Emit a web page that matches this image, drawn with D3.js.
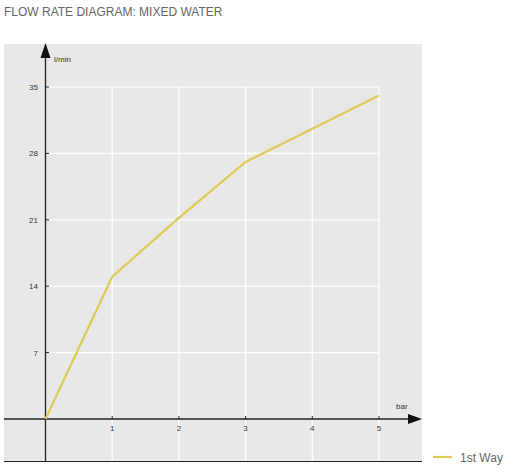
<!DOCTYPE html><html><head><meta charset="utf-8"><script src="https://cdn.jsdelivr.net/npm/d3@7"></script>
<style>body{margin:0;background:#fff;font-family:"Liberation Sans",Arial,sans-serif}</style></head><body><svg id="c" width="508" height="470"></svg>
<script>
const xVals=[0,1,2,3,4,5];
const yVals=[0,15,21.2,27.1,30.6,34.1];
const xTicks=[1,2,3,4,5];
const yTicks=[7,14,21,28,35];
const svg=d3.select("#c");
const x=d3.scaleLinear().domain([0,5]).range([45.5,379]);
const y=d3.scaleLinear().domain([0,35]).range([419,87]);
svg.append("text").attr("x",4).attr("y",16).attr("font-size",12).attr("fill","#666").attr("font-weight",300).text("FLOW RATE DIAGRAM: MIXED WATER");
svg.append("rect").attr("x",4).attr("y",44).attr("width",418).attr("height",418).attr("fill","#e8e8e8");
svg.selectAll(".gy").data(yTicks).join("line").attr("x1",48).attr("x2",379).attr("y1",d=>y(d)).attr("y2",d=>y(d)).attr("stroke","#fff").attr("stroke-width",1.2);
svg.selectAll(".gx").data(xTicks).join("line").attr("x1",d=>x(d)).attr("x2",d=>x(d)).attr("y1",87).attr("y2",462).attr("stroke","#fff").attr("stroke-width",1.2);
svg.append("line").attr("x1",4).attr("x2",422).attr("y1",461.5).attr("y2",461.5).attr("stroke","#222").attr("stroke-width",1.2);
svg.append("line").attr("x1",4).attr("x2",410).attr("y1",419).attr("y2",419).attr("stroke","#222").attr("stroke-width",1.3);
svg.append("path").attr("d","M408,414L422,419L408,424Z").attr("fill","#111");
svg.append("line").attr("x1",45.5).attr("x2",45.5).attr("y1",55).attr("y2",462).attr("stroke","#222").attr("stroke-width",1.3);
svg.append("path").attr("d","M40.5,58L45.5,43L50.5,58Z").attr("fill","#111");
svg.selectAll(".tx").data(xTicks).join("line").attr("x1",d=>x(d)).attr("x2",d=>x(d)).attr("y1",416).attr("y2",419).attr("stroke","#222");
svg.selectAll(".ty").data(yTicks).join("line").attr("x1",45.5).attr("x2",49).attr("y1",d=>y(d)).attr("y2",d=>y(d)).attr("stroke","#222");
svg.selectAll(".lx").data(xTicks).join("text").attr("x",d=>x(d)).attr("y",431).attr("text-anchor","middle").attr("font-size",8).attr("fill","#333").text(d=>d);
svg.selectAll(".ly").data(yTicks).join("text").attr("x",38).attr("y",d=>y(d)+3).attr("text-anchor","end").attr("font-size",8).attr("fill","#333").text(d=>d);
svg.append("text").attr("x",54).attr("y",62).attr("font-size",8).attr("fill","#333").text("l/min");
svg.append("text").attr("x",396).attr("y",409).attr("font-size",8).attr("fill","#333").text("bar");
const line=d3.line().x((d,i)=>x(xVals[i])).y(d=>y(d));
svg.append("path").attr("d",line(yVals)).attr("fill","none").attr("stroke","#dccb55").attr("stroke-width",2.2);
svg.append("line").attr("x1",433).attr("x2",452).attr("y1",457).attr("y2",457).attr("stroke","#dccb55").attr("stroke-width",2.2);
svg.append("text").attr("x",460).attr("y",462).attr("font-size",12).attr("fill","#666").attr("font-weight",300).text("1st Way");
</script></body></html>
